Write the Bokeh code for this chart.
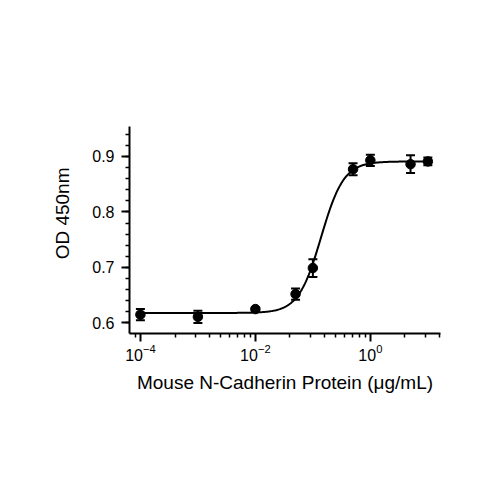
import numpy as np
from bokeh.plotting import figure
from bokeh.models import (Range1d, FixedTicker, SingleIntervalTicker, Whisker,
                          TeeHead, ColumnDataSource, Title)
from bokeh.embed import file_html
from bokeh.resources import INLINE

# ---- data ----
concentration = [0.0001, 0.001, 0.01, 0.05, 0.1, 0.5, 1, 5, 10]
od450 = [0.615, 0.611, 0.625, 0.652, 0.699, 0.877, 0.893, 0.886, 0.891]
od_err = [0.010, 0.011, 0.003, 0.010, 0.016, 0.011, 0.010, 0.016, 0.007]

# 4-parameter logistic fit
fit_bottom = 0.618
fit_top = 0.891
fit_ec50 = 0.139
fit_hill = 2.2

x_ticks = [1e-4, 1e-2, 1]
y_tick_interval = 0.1

x_label = "Mouse N-Cadherin Protein (\u03bcg/mL)"
y_label = "OD 450nm"

FONT = "Liberation Sans"

curve_x = np.logspace(np.log10(concentration[0]), np.log10(concentration[-1]), 300)
curve_y = fit_bottom + (fit_top - fit_bottom) / (1 + (fit_ec50 / curve_x) ** fit_hill)

p = figure(width=492, height=492, output_backend="svg", toolbar_location=None,
           x_axis_type="log",
           x_range=Range1d(6.46e-5, 16.6), y_range=Range1d(0.581, 0.954),
           frame_width=311, frame_height=207,
           min_border_left=129, min_border_top=126,
           min_border_right=52, min_border_bottom=159)
p.outline_line_color = None
p.xgrid.visible = False
p.ygrid.visible = False
p.background_fill_color = "white"
p.border_fill_color = "white"

p.line(curve_x, curve_y, line_color="black", line_width=2)

src = ColumnDataSource(dict(
    x=concentration, y=od450,
    lower=[v - e for v, e in zip(od450, od_err)],
    upper=[v + e for v, e in zip(od450, od_err)],
))
w = Whisker(base="x", lower="lower", upper="upper", source=src,
            line_color="black", line_width=2,
            upper_head=TeeHead(size=9, line_width=2, line_color="black"),
            lower_head=TeeHead(size=9, line_width=2, line_color="black"))
p.add_layout(w)
p.scatter("x", "y", source=src, size=9.5, marker="circle",
          fill_color="black", line_color="black")

# minor ticks: Prism-style, major * k^2 within each two-decade interval
minor = [m * k ** 2 for m in (1e-6, 1e-4, 1e-2, 1) for k in range(2, 10)]
p.xaxis.ticker = FixedTicker(ticks=x_ticks, minor_ticks=minor)
p.yaxis.ticker = SingleIntervalTicker(interval=y_tick_interval, num_minor_ticks=5)

for ax in (p.xaxis[0], p.yaxis[0]):
    ax.axis_line_width = 2
    ax.axis_line_color = "black"
    ax.major_tick_line_width = 2
    ax.major_tick_line_color = "black"
    ax.major_tick_out = 8
    ax.major_tick_in = 0
    ax.minor_tick_line_width = 1.5
    ax.minor_tick_line_color = "black"
    ax.minor_tick_out = 4
    ax.minor_tick_in = 0
    ax.major_label_text_font = FONT
    ax.major_label_text_font_size = "16px"
    ax.major_label_text_color = "black"
    ax.axis_label_text_font = FONT
    ax.axis_label_text_font_size = "19px"
    ax.axis_label_text_font_style = "normal"
    ax.axis_label_text_color = "black"

p.xaxis.axis_label = x_label
p.xaxis.major_label_standoff = 2
p.yaxis.major_label_standoff = 7
p.xaxis.axis_label_standoff = 8

# y-axis title, slightly above centre as in the reference
p.add_layout(Title(text=y_label, align="right", offset=41, vertical_align="bottom",
                   standoff=34, text_font=FONT, text_font_size="19px",
                   text_font_style="normal", text_color="black"), "left")

open("out.html", "w").write(file_html(p, INLINE))
